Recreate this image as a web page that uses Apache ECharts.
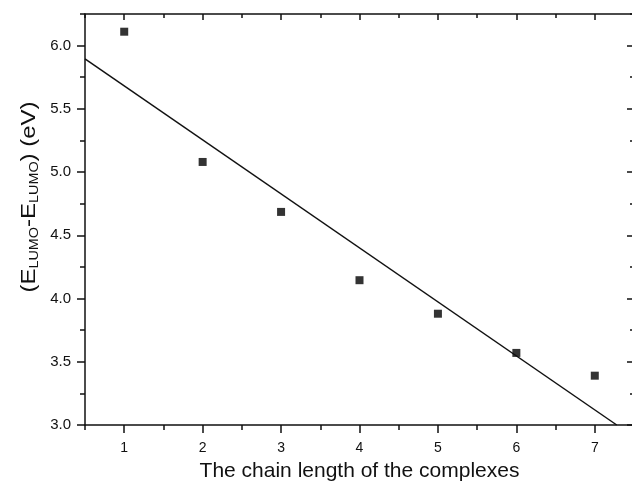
<!DOCTYPE html>
<html>
<head>
<meta charset="utf-8">
<script src="https://cdn.jsdelivr.net/npm/echarts@6/dist/echarts.min.js"></script>
<style>
  html, body { margin: 0; padding: 0; background: #fff; }
  #main { width: 632px; height: 483px; }
</style>
</head>
<body>
<div id="main"></div>
<script type="text/javascript">
// data
var chainLength = [1, 2, 3, 4, 5, 6, 7];
var gapValues = [6.11, 5.08, 4.685, 4.145, 3.88, 3.57, 3.39];
// fitted straight line, end points as drawn
var fitX = [0.5, 7.28];
var fitY = [5.895, 3.0];

var xMajorTicks = [1, 2, 3, 4, 5, 6, 7];
var xMinorTicks = [0.5, 1.5, 2.5, 3.5, 4.5, 5.5, 6.5, 7.5];
var yMajorTicks = [3.0, 3.5, 4.0, 4.5, 5.0, 5.5, 6.0];
var yMinorTicks = [3.25, 3.75, 4.25, 4.75, 5.25, 5.75, 6.25];

var ink = '#111';
var font = 'Liberation Sans, Arial, Helvetica, sans-serif';

var myChart = echarts.init(document.getElementById('main'));

function xAxisDef(pos, ticks, len, inside, showLine, showLabel) {
    return {
        type: 'value', position: pos, min: 0.5, max: 7.5,
        axisLine: { show: showLine, lineStyle: { color: ink, width: 1.5 } },
        axisTick: { show: true, inside: inside, length: len, customValues: ticks,
                    lineStyle: { color: ink, width: 1.5 } },
        axisLabel: { show: showLabel, customValues: ticks, margin: 16,
                     color: ink, fontSize: 14, fontFamily: font },
        splitLine: { show: false }
    };
}
function yAxisDef(pos, ticks, len, inside, showLine, showLabel) {
    return {
        type: 'value', position: pos, min: 3.0, max: 6.25,
        axisLine: { show: showLine, lineStyle: { color: ink, width: 1.5 } },
        axisTick: { show: true, inside: inside, length: len, customValues: ticks,
                    lineStyle: { color: ink, width: 1.5 } },
        axisLabel: { show: showLabel, customValues: ticks, margin: 14,
                     color: ink, fontSize: 15, fontFamily: font,
                     formatter: function (v) { return v.toFixed(1); } },
        splitLine: { show: false }
    };
}

var bottomMain = xAxisDef('bottom', xMajorTicks, 8, false, true, true);
bottomMain.name = 'The chain length of the complexes';
bottomMain.nameLocation = 'middle';
bottomMain.nameGap = 36;
bottomMain.nameTextStyle = { color: ink, fontSize: 21, fontFamily: font };

var fitData = [];
for (var i = 0; i < fitX.length; i++) fitData.push([fitX[i], fitY[i]]);
var pointData = [];
for (var j = 0; j < chainLength.length; j++) pointData.push([chainLength[j], gapValues[j]]);

var option = {
    backgroundColor: '#fff',
    animation: false,
    grid: { left: 85, top: 14, right: -2, bottom: 58, outerBoundsMode: 'none' },
    xAxis: [
        bottomMain,
        xAxisDef('bottom', xMinorTicks, 5, false, false, false),
        xAxisDef('top', xMajorTicks, 6, true, true, false),
        xAxisDef('top', xMinorTicks, 4, true, false, false)
    ],
    yAxis: [
        yAxisDef('left', yMajorTicks, 8, false, true, true),
        yAxisDef('left', yMinorTicks, 5, false, false, false),
        yAxisDef('right', yMajorTicks, 7, true, false, false),
        yAxisDef('right', yMinorTicks, 4, true, false, false)
    ],
    graphic: [{
        type: 'text',
        x: 29, y: 197,
        rotation: Math.PI / 2,
        scaleX: 1.2,
        style: {
            text: '(E{s|LUMO}-E{s|LUMO}) (eV)',
            font: '20px ' + font,
            fill: ink,
            align: 'center',
            verticalAlign: 'middle',
            lineHeight: 24,
            rich: {
                s: { fontSize: 12, fontFamily: font, fill: ink, verticalAlign: 'bottom', lineHeight: 12 }
            }
        }
    }],
    series: [{
        type: 'line',
        data: fitData,
        showSymbol: false,
        lineStyle: { color: ink, width: 1.5 },
        clip: true
    }, {
        type: 'scatter',
        data: pointData,
        symbol: 'rect',
        symbolSize: 8,
        itemStyle: { color: '#000' }
    }]
};
myChart.setOption(option);
</script>
</body>
</html>
